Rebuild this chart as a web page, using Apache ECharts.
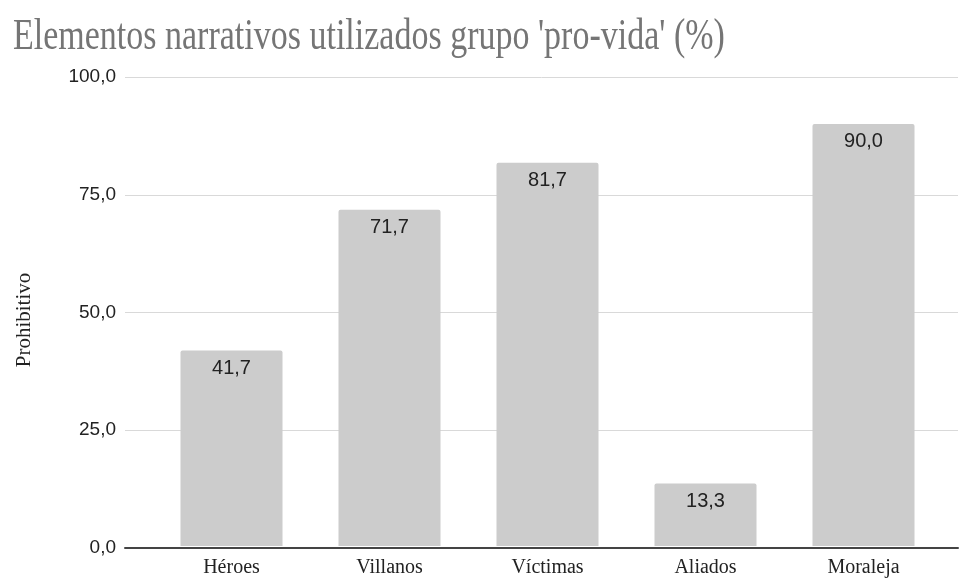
<!DOCTYPE html>
<html><head><meta charset="utf-8">
<script src="https://cdn.jsdelivr.net/npm/echarts@6/dist/echarts.min.js"></script>
<style>html,body{margin:0;padding:0;background:#fff}#c{width:959px;height:578px}</style>
</head><body><div id="c"></div>
<script>
const categories = ['Héroes', 'Villanos', 'Víctimas', 'Aliados', 'Moraleja'];
const values = [41.7, 71.7, 81.7, 13.3, 90.0];
const yTicks = [0, 25, 50, 75, 100];
const titleText = "Elementos narrativos utilizados grupo 'pro-vida' (%)";
const yName = 'Prohibitivo';

const fmt = v => Number(v).toFixed(1).replace('.', ',');
const chart = echarts.init(document.getElementById('c'));
chart.setOption({
  animation: false,
  graphic: [
    { type: 'text', x: 13, y: 37, scaleY: 1.3, originX: 0, originY: 0,
      style: { text: titleText, font: '34px "Liberation Serif"', fill: '#757575', verticalAlign: 'middle', align: 'left' } },
    { type: 'text', x: 24, y: 320, rotation: Math.PI / 2,
      style: { text: yName, font: '21px "Liberation Serif"', fill: '#222', verticalAlign: 'middle', align: 'center' } }
  ],
  grid: [
    { left: 125, right: 1, top: 77, bottom: 30 },
    { left: 152.5, right: 16.5, top: 77, bottom: 30 }
  ],
  xAxis: [
    { gridIndex: 0, type: 'value', min: 0, max: 1, axisLabel: { show: false }, splitLine: { show: false }, axisTick: { show: false },
      axisLine: { show: true, onZero: false, lineStyle: { color: '#444', width: 2 } } },
    { gridIndex: 1, type: 'category', data: categories, axisLine: { show: false }, axisTick: { show: false },
      axisLabel: { margin: 12, fontFamily: 'Liberation Serif', fontSize: 20, color: '#222' } }
  ],
  yAxis: [
    { gridIndex: 0, type: 'value', min: yTicks[0], max: yTicks[yTicks.length - 1], interval: 25,
      axisLine: { show: false }, axisTick: { show: false },
      axisLabel: { margin: 9, fontFamily: 'Liberation Sans', fontSize: 19, color: '#222', formatter: fmt },
      splitLine: { show: true, lineStyle: { color: '#d9d9d9', width: 1 } } },
    { gridIndex: 1, type: 'value', min: 0, max: 100, interval: 25, show: false, splitLine: { show: false } }
  ],
  series: [{
    type: 'bar', xAxisIndex: 1, yAxisIndex: 1, data: values, barWidth: 102,
    itemStyle: { color: '#cccccc', borderRadius: [2, 2, 0, 0] },
    label: { show: true, position: 'insideTop', distance: 8, fontFamily: 'Liberation Sans', fontSize: 20, color: '#222', formatter: p => fmt(p.value) }
  }]
});
</script></body></html>
